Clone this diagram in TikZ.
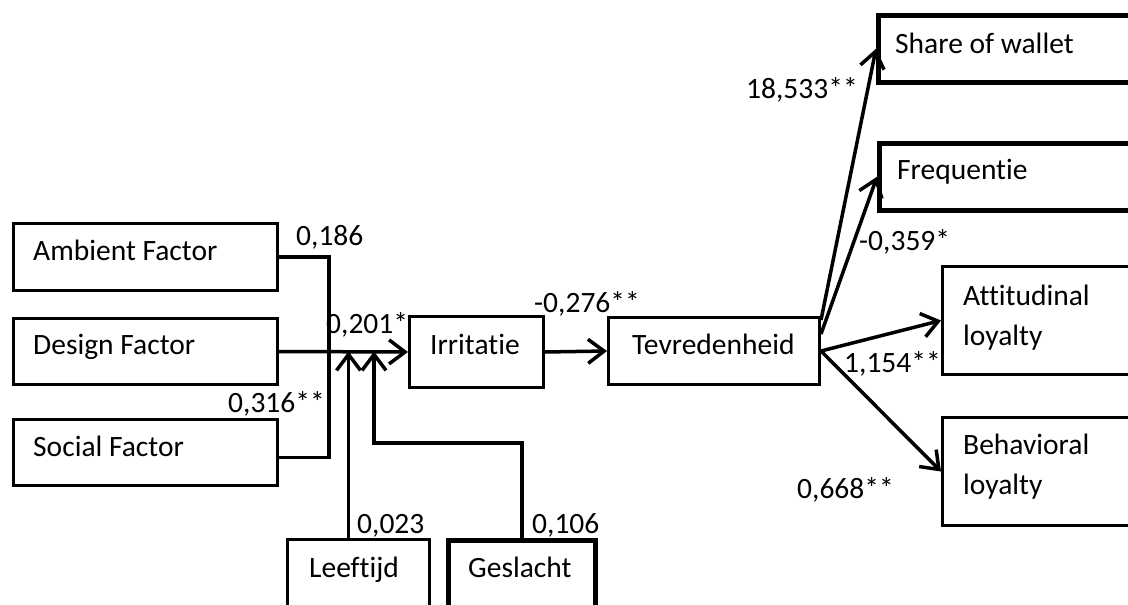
\documentclass[tikz,border=0pt]{standalone}
\usepackage{fontspec}
\setmainfont{Carlito}[Ligatures=NoCommon]
\usepackage{tikz}
\usetikzlibrary{positioning,arrows.meta,calc}

\begin{document}
\begin{tikzpicture}[
    x=1pt, y=-1pt,
    box/.style={
      draw=black,
      line width=3pt,
      anchor=north west,
      inner sep=0pt
    },
    heavybox/.style={
      box,
      line width=4.5pt
    },
    txt/.style={
      anchor=base west,
      inner sep=0pt,
      align=left,
      font=\fontsize{29.5}{40}\selectfont
    },
    coef/.style={
      anchor=base west,
      inner sep=0pt,
      font=\fontsize{29.5}{35}\selectfont
    },
    link/.style={
      line width=3.5pt
    },
    arrow/.style={
      -{Straight Barb[length=16pt,width=24pt]},
      line width=3.5pt
    }
  ]
  \useasboundingbox (0,0) rectangle (1128,605);
  \clip (0,0) rectangle (1128,605);

  % vier blokken links en onder
  \node[box, minimum width=264, minimum height=67] (amb) at (12,222) {};
  \node[box, minimum width=264, minimum height=66] (des) at (12,317) {};
  \node[box, minimum width=264, minimum height=66] (soc) at (12,418) {};
  \node[box, minimum width=142, minimum height=100] (leef) at (286,538) {};
  \node[heavybox, minimum width=147, minimum height=100] (gesl) at (446,538) {};

  % midden
  \node[box, minimum width=134, minimum height=71] (irr) at (408,315) {};
  \node[box, minimum width=211, minimum height=67] (tev) at (607,316) {};

  % uitkomsten rechts
  \node[heavybox, minimum width=300, minimum height=67] (share) at (876,13) {};
  \node[heavybox, minimum width=300, minimum height=67] (freq) at (877,141) {};
  \node[box, minimum width=250, minimum height=108] (att) at (941,265) {};
  \node[box, minimum width=250, minimum height=108] (beh) at (941,416) {};

  % teksten in de blokken
  \node[txt] (amb-t) at (33,260) {Ambient Factor};
  \node[txt] (des-t) at (33,354) {Design Factor};
  \node[txt] (soc-t) at (33,456) {Social Factor};
  \node[txt] (leef-t) at (309,577) {Leeftijd};
  \node[txt] (gesl-t) at (468,577) {Geslacht};
  \node[txt] (irr-t) at (430,354) {Irritatie};
  \node[txt] (tev-t) at (632,354) {Tevredenheid};
  \node[txt] (share-t) at (895,53) {Share of wallet};
  \node[txt] (freq-t) at (897,179) {Frequentie};
  \node[txt] (att-t) at (963,345) {Attitudinal\\loyalty};
  \node[txt] (beh-t) at (963,494) {Behavioral\\loyalty};

  % verbindingen naar irritatie
  \draw[link] (amb.east) -- ++(50,0) |- ([yshift=-5pt]soc.east);
  \draw[arrow] (des.east) -- (irr.west);
  \draw[arrow] ([xshift=-10pt]leef.north) -- ([xshift=-10pt]leef.north |- des.east);
  \draw[arrow] (gesl.north) -- ++(0,-95) -| ([xshift=95pt]des.east);

  % irritatie -> tevredenheid -> uitkomsten
  \draw[arrow] (irr.east) -- (tev.west);
  \draw[arrow] ([yshift=31pt]tev.east) -- (share.west);
  \draw[arrow] ([yshift=17pt]tev.east) -- (freq.west);
  \draw[arrow] (tev.east) -- (att.west);
  \draw[arrow] (tev.east) -- (beh.west);

  % coefficienten
  \node[coef] (c-amb) at (296,245) {0,186};
  \node[coef] (c-des) at (326,333) {0,201*};
  \node[coef] (c-soc) at (228,412) {0,316**};
  \node[coef] (c-leef) at (357,533) {0,023};
  \node[coef] (c-gesl) at (532,533) {0,106};
  \node[coef] (c-irr) at (534,312) {-0,276**};
  \node[coef] (c-share) at (746,98) {18,533**};
  \node[coef] (c-freq) at (859,250) {-0,359*};
  \node[coef] (c-att) at (844,372) {1,154**};
  \node[coef] (c-beh) at (797,498) {0,668**};
\end{tikzpicture}
\end{document}
